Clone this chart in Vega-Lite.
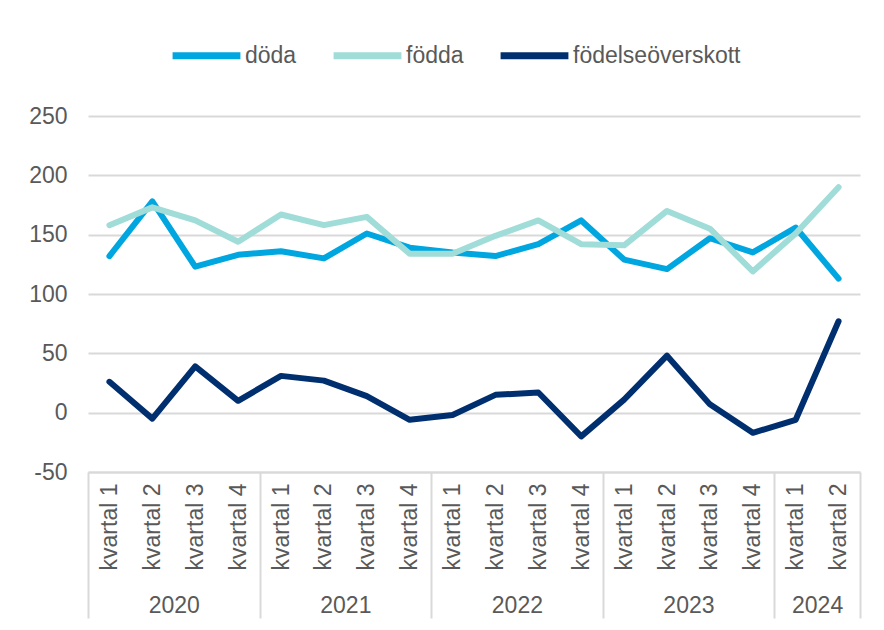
{
  "$schema": "https://vega.github.io/schema/vega-lite/v6.json",
  "width": 772,
  "height": 356,
  "autosize": {"type": "none"},
  "padding": {"left": 88, "top": 116, "right": 24, "bottom": 158},
  "background": "white",
  "config": {
    "view": {"stroke": null},
    "font": "Liberation Sans",
    "axis": {"labelFont": "Liberation Sans", "labelColor": "#595959", "labelFontSize": 23},
    "legend": {"labelFont": "Liberation Sans", "labelColor": "#595959", "labelFontSize": 23}
  },
  "datasets": {
    "serier": [
      {"kvartal": 0, "serie": "döda", "antal": 132},
      {"kvartal": 1, "serie": "döda", "antal": 178},
      {"kvartal": 2, "serie": "döda", "antal": 123},
      {"kvartal": 3, "serie": "döda", "antal": 133},
      {"kvartal": 4, "serie": "döda", "antal": 136},
      {"kvartal": 5, "serie": "döda", "antal": 130},
      {"kvartal": 6, "serie": "döda", "antal": 151},
      {"kvartal": 7, "serie": "döda", "antal": 139},
      {"kvartal": 8, "serie": "döda", "antal": 135},
      {"kvartal": 9, "serie": "döda", "antal": 132},
      {"kvartal": 10, "serie": "döda", "antal": 142},
      {"kvartal": 11, "serie": "döda", "antal": 162},
      {"kvartal": 12, "serie": "döda", "antal": 129},
      {"kvartal": 13, "serie": "döda", "antal": 121},
      {"kvartal": 14, "serie": "döda", "antal": 147},
      {"kvartal": 15, "serie": "döda", "antal": 135},
      {"kvartal": 16, "serie": "döda", "antal": 156},
      {"kvartal": 17, "serie": "döda", "antal": 113},
      {"kvartal": 0, "serie": "födda", "antal": 158},
      {"kvartal": 1, "serie": "födda", "antal": 173},
      {"kvartal": 2, "serie": "födda", "antal": 162},
      {"kvartal": 3, "serie": "födda", "antal": 144},
      {"kvartal": 4, "serie": "födda", "antal": 167},
      {"kvartal": 5, "serie": "födda", "antal": 158},
      {"kvartal": 6, "serie": "födda", "antal": 165},
      {"kvartal": 7, "serie": "födda", "antal": 134},
      {"kvartal": 8, "serie": "födda", "antal": 134},
      {"kvartal": 9, "serie": "födda", "antal": 149},
      {"kvartal": 10, "serie": "födda", "antal": 162},
      {"kvartal": 11, "serie": "födda", "antal": 142},
      {"kvartal": 12, "serie": "födda", "antal": 141},
      {"kvartal": 13, "serie": "födda", "antal": 170},
      {"kvartal": 14, "serie": "födda", "antal": 155},
      {"kvartal": 15, "serie": "födda", "antal": 119},
      {"kvartal": 16, "serie": "födda", "antal": 151},
      {"kvartal": 17, "serie": "födda", "antal": 190},
      {"kvartal": 0, "serie": "födelseöverskott", "antal": 26},
      {"kvartal": 1, "serie": "födelseöverskott", "antal": -5},
      {"kvartal": 2, "serie": "födelseöverskott", "antal": 39},
      {"kvartal": 3, "serie": "födelseöverskott", "antal": 10},
      {"kvartal": 4, "serie": "födelseöverskott", "antal": 31},
      {"kvartal": 5, "serie": "födelseöverskott", "antal": 27},
      {"kvartal": 6, "serie": "födelseöverskott", "antal": 14},
      {"kvartal": 7, "serie": "födelseöverskott", "antal": -6},
      {"kvartal": 8, "serie": "födelseöverskott", "antal": -2},
      {"kvartal": 9, "serie": "födelseöverskott", "antal": 15},
      {"kvartal": 10, "serie": "födelseöverskott", "antal": 17},
      {"kvartal": 11, "serie": "födelseöverskott", "antal": -20},
      {"kvartal": 12, "serie": "födelseöverskott", "antal": 11},
      {"kvartal": 13, "serie": "födelseöverskott", "antal": 48},
      {"kvartal": 14, "serie": "födelseöverskott", "antal": 7},
      {"kvartal": 15, "serie": "födelseöverskott", "antal": -17},
      {"kvartal": 16, "serie": "födelseöverskott", "antal": -6},
      {"kvartal": 17, "serie": "födelseöverskott", "antal": 77}
    ]
  },
  "data": {"name": "serier"},
  "resolve": {"axis": {"x": "independent"}},
  "layer": [
    {
      "mark": {"type": "line", "strokeWidth": 6, "strokeCap": "round", "strokeJoin": "round"},
      "encoding": {
        "x": {
          "field": "kvartal",
          "type": "quantitative",
          "scale": {"domain": [-0.5, 17.5], "nice": false, "zero": false},
          "axis": {
            "orient": "bottom",
            "title": null,
            "values": [0, 1, 2, 3, 4, 5, 6, 7, 8, 9, 10, 11, 12, 13, 14, 15, 16, 17],
            "labelExpr": "'kvartal ' + (datum.value % 4 + 1)",
            "labelAngle": -90,
            "labelAlign": "right",
            "labelBaseline": "middle",
            "labelPadding": 11,
            "ticks": false,
            "grid": false,
            "domain": true,
            "domainColor": "#d9d9d9",
            "domainWidth": 2
          }
        },
        "y": {
          "field": "antal",
          "type": "quantitative",
          "scale": {"domain": [-50, 250], "nice": false, "zero": false},
          "axis": {
            "title": null,
            "values": [-50, 0, 50, 100, 150, 200, 250],
            "labelExpr": "'' + datum.value",
            "grid": true,
            "gridColor": "#d9d9d9",
            "gridWidth": 2,
            "domain": false,
            "ticks": false,
            "labelPadding": 21
          }
        },
        "color": {
          "field": "serie",
          "type": "nominal",
          "sort": ["döda", "födda", "födelseöverskott"],
          "scale": {
            "domain": ["döda", "födda", "födelseöverskott"],
            "range": ["#00A6DF", "#A0DCD8", "#002F6F"]
          },
          "legend": {
            "title": null,
            "orient": "none",
            "direction": "horizontal",
            "legendX": 81,
            "legendY": -98,
            "symbolType": "stroke",
            "symbolSize": 4600,
            "symbolStrokeWidth": 7,
            "labelOffset": 1,
            "labelLimit": 400,
            "columnPadding": 22,
            "padding": 0
          }
        }
      }
    },
    {
      "mark": {"type": "point", "opacity": 0},
      "encoding": {
        "x": {
          "field": "kvartal",
          "type": "quantitative",
          "axis": {
            "orient": "bottom",
            "title": null,
            "values": [1.5, 5.5, 9.5, 13.5, 16.5],
            "labelExpr": "2020 + floor(datum.value / 4)",
            "labelAngle": 0,
            "labelAlign": "center",
            "labelBaseline": "top",
            "labelPadding": 122,
            "ticks": false,
            "grid": false,
            "domain": false
          }
        }
      }
    },
    {
      "mark": {"type": "point", "opacity": 0},
      "encoding": {
        "x": {
          "field": "kvartal",
          "type": "quantitative",
          "axis": {
            "orient": "bottom",
            "title": null,
            "values": [-0.5, 3.5, 7.5, 11.5, 15.5, 17.5],
            "labels": false,
            "ticks": true,
            "tickSize": 146,
            "tickColor": "#d9d9d9",
            "tickWidth": 2,
            "grid": false,
            "domain": false
          }
        }
      }
    }
  ]
}
